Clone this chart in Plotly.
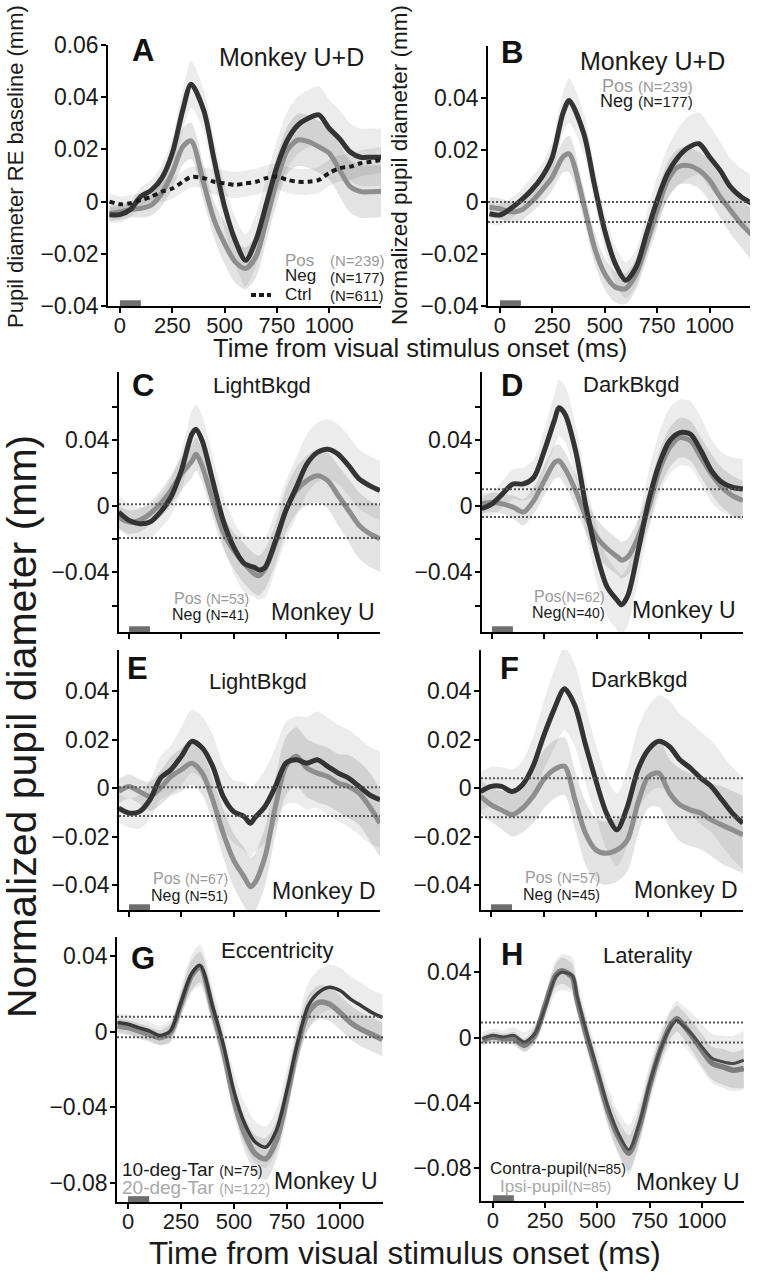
import plotly.graph_objects as go

W, H = 763, 1280
FONT = "Liberation Sans, Arial, Helvetica, sans-serif"

# ---------------- data ----------------
# Panel A (Monkey U+D, RE baseline)
A_t = [-50, 0, 50, 100, 150, 200, 250, 300, 340, 400, 450, 500, 550, 600, 650, 700, 750, 800, 850, 900, 950, 1000, 1050, 1100, 1150, 1200, 1250]
A_neg = [-0.005, -0.005, -0.003, 0.002, 0.0044, 0.009, 0.0185, 0.035, 0.045, 0.035, 0.016, -0.002, -0.0147, -0.0225, -0.0147, -0.0007, 0.0134, 0.0236, 0.0293, 0.0319, 0.0332, 0.028, 0.024, 0.019, 0.017, 0.017, 0.017]
A_neg_sem = [0.003, 0.003, 0.003, 0.0035, 0.004, 0.005, 0.006, 0.008, 0.009, 0.008, 0.008, 0.009, 0.009, 0.01, 0.01, 0.01, 0.01, 0.011, 0.011, 0.011, 0.011, 0.011, 0.011, 0.011, 0.011, 0.011, 0.011]
A_pos = [-0.0045, -0.004, -0.003, -0.0026, -0.0013, 0.0032, 0.011, 0.021, 0.0233, 0.007, -0.007, -0.016, -0.023, -0.0256, -0.021, -0.007, 0.0083, 0.0198, 0.0236, 0.023, 0.021, 0.0185, 0.012, 0.0057, 0.0038, 0.0038, 0.004]
A_pos_sem = [0.003, 0.003, 0.003, 0.0035, 0.004, 0.005, 0.006, 0.007, 0.007, 0.007, 0.007, 0.008, 0.008, 0.008, 0.008, 0.008, 0.009, 0.009, 0.01, 0.01, 0.01, 0.01, 0.01, 0.01, 0.01, 0.01, 0.01]
A_ctrl = [0.0, -0.001, -0.0006, 0.0006, 0.0019, 0.0038, 0.005, 0.0076, 0.0094, 0.009, 0.0076, 0.007, 0.0064, 0.007, 0.0076, 0.009, 0.0096, 0.0083, 0.0076, 0.0076, 0.0083, 0.011, 0.0128, 0.0134, 0.0147, 0.0153, 0.016]
A_ctrl_sem = [0.003, 0.003, 0.003, 0.003, 0.003, 0.004, 0.004, 0.004, 0.004, 0.004, 0.005, 0.005, 0.005, 0.005, 0.005, 0.005, 0.005, 0.005, 0.005, 0.005, 0.005, 0.005, 0.005, 0.005, 0.005, 0.005, 0.005]

# Panel B (Monkey U+D, normalized)
B_t = [-50, 0, 50, 100, 150, 200, 250, 300, 330, 400, 450, 500, 550, 600, 650, 700, 750, 800, 850, 900, 950, 1000, 1050, 1100, 1150, 1200]
B_neg = [-0.0045, -0.005, -0.0026, 0.0006, 0.0045, 0.0096, 0.0173, 0.034, 0.039, 0.0263, 0.007, -0.011, -0.0237, -0.0301, -0.025, -0.012, 0.0006, 0.011, 0.0173, 0.021, 0.0224, 0.0173, 0.0122, 0.0058, 0.002, -0.0005]
B_neg_sem = [0.004, 0.004, 0.004, 0.004, 0.005, 0.005, 0.006, 0.008, 0.0085, 0.008, 0.007, 0.007, 0.007, 0.007, 0.007, 0.008, 0.009, 0.01, 0.011, 0.012, 0.012, 0.012, 0.011, 0.011, 0.011, 0.011]
B_pos = [-0.002, -0.0026, -0.0038, -0.0032, 0.0, 0.0045, 0.0096, 0.0173, 0.0185, -0.001, -0.0173, -0.0276, -0.0327, -0.0333, -0.0276, -0.016, -0.0032, 0.0083, 0.0135, 0.014, 0.0122, 0.0083, 0.002, -0.0032, -0.0083, -0.0125]
B_pos_sem = [0.004, 0.004, 0.004, 0.004, 0.004, 0.005, 0.005, 0.006, 0.007, 0.006, 0.006, 0.006, 0.006, 0.006, 0.006, 0.006, 0.007, 0.007, 0.007, 0.007, 0.007, 0.008, 0.008, 0.009, 0.009, 0.01]
B_thr = [0.0, -0.0077]

# Panel C (LightBkgd, Monkey U)
C_t = [-50, 0, 50, 100, 150, 200, 250, 300, 320, 350, 400, 450, 500, 550, 600, 620, 650, 700, 750, 800, 850, 900, 950, 1000, 1050, 1100, 1150, 1200]
C_neg = [-0.0036, -0.0086, -0.0106, -0.0096, -0.0036, 0.0054, 0.0214, 0.0434, 0.0464, 0.0394, 0.0154, -0.0086, -0.0246, -0.0346, -0.037, -0.0385, -0.037, -0.021, -0.0026, 0.0114, 0.0254, 0.0324, 0.0344, 0.0314, 0.0244, 0.0164, 0.0124, 0.0094]
C_neg_sem = [0.01, 0.01, 0.01, 0.01, 0.01, 0.011, 0.012, 0.014, 0.015, 0.015, 0.015, 0.015, 0.016, 0.017, 0.018, 0.018, 0.018, 0.018, 0.018, 0.018, 0.018, 0.018, 0.018, 0.018, 0.018, 0.018, 0.018, 0.018]
C_pos = [-0.0066, -0.0096, -0.0086, -0.0046, 0.0014, 0.0094, 0.0194, 0.027, 0.0314, 0.024, 0.0034, -0.0156, -0.0266, -0.0346, -0.041, -0.042, -0.038, -0.0226, -0.0026, 0.0094, 0.0154, 0.0184, 0.0154, 0.0064, -0.0026, -0.0116, -0.0166, -0.0196]
C_pos_sem = [0.007, 0.007, 0.007, 0.007, 0.008, 0.009, 0.01, 0.01, 0.01, 0.01, 0.01, 0.01, 0.011, 0.012, 0.012, 0.012, 0.012, 0.012, 0.013, 0.014, 0.015, 0.016, 0.017, 0.018, 0.019, 0.02, 0.02, 0.02]
C_thr = [0.0012, -0.0193]

# Panel D (DarkBkgd, Monkey U)
D_t = [-50, 0, 50, 100, 150, 200, 250, 300, 320, 350, 400, 450, 500, 550, 600, 620, 650, 700, 750, 800, 850, 900, 950, 1000, 1050, 1100, 1150, 1200]
D_neg = [-0.0016, 0.0014, 0.0074, 0.0134, 0.0134, 0.0174, 0.0334, 0.0524, 0.0594, 0.0554, 0.0334, -0.0006, -0.0286, -0.0486, -0.057, -0.0596, -0.054, -0.0266, 0.0034, 0.0254, 0.0394, 0.0444, 0.0434, 0.0334, 0.0214, 0.0144, 0.0114, 0.0104]
D_neg_sem = [0.007, 0.007, 0.008, 0.009, 0.01, 0.011, 0.013, 0.016, 0.017, 0.017, 0.016, 0.016, 0.017, 0.018, 0.018, 0.018, 0.018, 0.018, 0.018, 0.019, 0.02, 0.02, 0.02, 0.02, 0.019, 0.018, 0.018, 0.018]
D_pos = [0.0014, 0.0024, 0.0014, -0.0006, -0.0036, 0.0034, 0.0154, 0.0264, 0.0274, 0.0224, 0.0094, -0.0066, -0.0186, -0.0256, -0.0306, -0.0326, -0.0306, -0.0186, -0.0006, 0.0214, 0.0354, 0.0414, 0.0394, 0.0294, 0.0194, 0.0114, 0.0064, 0.0034]
D_pos_sem = [0.006, 0.006, 0.006, 0.007, 0.008, 0.008, 0.009, 0.01, 0.01, 0.01, 0.01, 0.01, 0.011, 0.011, 0.011, 0.011, 0.011, 0.011, 0.011, 0.011, 0.012, 0.012, 0.012, 0.012, 0.012, 0.012, 0.012, 0.012]
D_thr = [0.0102, -0.0066]

# Panel E (LightBkgd, Monkey D)
E_t = [-50, 0, 50, 100, 150, 200, 250, 300, 350, 400, 450, 500, 550, 580, 600, 650, 700, 750, 800, 850, 900, 950, 1000, 1050, 1100, 1150, 1200]
E_neg = [-0.0083, -0.0103, -0.0097, -0.0048, 0.0041, 0.0076, 0.0131, 0.0193, 0.0166, 0.009, -0.0034, -0.0097, -0.0117, -0.0145, -0.0124, -0.0076, 0.0007, 0.0103, 0.0117, 0.0103, 0.0117, 0.009, 0.0062, 0.0041, 0.0007, -0.0028, -0.0048]
E_neg_sem = [0.006, 0.006, 0.007, 0.008, 0.009, 0.01, 0.012, 0.013, 0.013, 0.013, 0.013, 0.013, 0.014, 0.014, 0.014, 0.015, 0.016, 0.017, 0.018, 0.019, 0.02, 0.02, 0.02, 0.02, 0.02, 0.02, 0.02]
E_pos = [-0.0014, 0.0007, -0.0014, -0.0034, 0.0, 0.0048, 0.0076, 0.0103, 0.0062, -0.0048, -0.0186, -0.0297, -0.0366, -0.0407, -0.0393, -0.0283, -0.0076, 0.009, 0.0131, 0.0083, 0.0062, 0.0048, 0.0021, 0.0007, -0.0021, -0.0076, -0.0145]
E_pos_sem = [0.005, 0.005, 0.005, 0.006, 0.007, 0.008, 0.009, 0.009, 0.009, 0.009, 0.01, 0.011, 0.012, 0.012, 0.012, 0.012, 0.012, 0.012, 0.012, 0.012, 0.012, 0.012, 0.012, 0.013, 0.013, 0.014, 0.014]
E_thr = [0.0004, -0.0115]

# Panel F (DarkBkgd, Monkey D)
F_t = [-50, 0, 50, 100, 150, 200, 250, 300, 350, 400, 450, 500, 550, 600, 650, 700, 750, 800, 850, 900, 950, 1000, 1050, 1100, 1150, 1200]
F_neg = [-0.0014, 0.0007, 0.0007, -0.0014, 0.0014, 0.009, 0.0214, 0.0324, 0.041, 0.034, 0.018, 0.003, -0.0103, -0.0172, -0.0076, 0.0076, 0.0159, 0.0193, 0.0172, 0.0117, 0.0083, 0.0041, 0.0007, -0.0048, -0.0103, -0.0145]
F_neg_sem = [0.008, 0.008, 0.008, 0.009, 0.01, 0.012, 0.014, 0.016, 0.017, 0.017, 0.016, 0.015, 0.015, 0.015, 0.016, 0.017, 0.018, 0.019, 0.019, 0.019, 0.019, 0.019, 0.019, 0.019, 0.019, 0.019]
F_pos = [-0.0034, -0.0069, -0.009, -0.011, -0.0083, -0.0034, 0.0034, 0.0076, 0.009, -0.0048, -0.0186, -0.0255, -0.0269, -0.0255, -0.0214, -0.0062, 0.0048, 0.0062, -0.002, -0.0069, -0.009, -0.0103, -0.0131, -0.0152, -0.0172, -0.0193]
F_pos_sem = [0.007, 0.007, 0.008, 0.009, 0.01, 0.011, 0.012, 0.012, 0.012, 0.012, 0.013, 0.013, 0.013, 0.013, 0.013, 0.013, 0.013, 0.014, 0.014, 0.015, 0.015, 0.015, 0.015, 0.016, 0.016, 0.016]
F_thr = [0.0041, -0.012]

# Panel G (Eccentricity, Monkey U)
G_t = [-50, 0, 50, 100, 150, 200, 250, 300, 340, 400, 450, 500, 550, 600, 650, 700, 750, 800, 850, 900, 950, 1000, 1050, 1100, 1150, 1200]
G_10 = [0.0048, 0.0039, 0.0021, 0.0004, -0.002, 0.0004, 0.0155, 0.0306, 0.035, 0.013, -0.007, -0.0316, -0.0485, -0.0583, -0.061, -0.0521, -0.0308, -0.0059, 0.0137, 0.0208, 0.0235, 0.0217, 0.0172, 0.0137, 0.0101, 0.0075]
G_10_sem = [0.005, 0.005, 0.005, 0.005, 0.005, 0.006, 0.008, 0.01, 0.011, 0.01, 0.01, 0.01, 0.011, 0.011, 0.011, 0.011, 0.011, 0.011, 0.012, 0.012, 0.012, 0.012, 0.012, 0.012, 0.012, 0.012]
G_20 = [0.003, 0.0021, 0.0004, -0.0014, -0.0032, -0.0005, 0.0146, 0.0297, 0.0341, 0.011, -0.01, -0.0361, -0.0539, -0.0645, -0.0672, -0.0574, -0.0343, -0.0076, 0.0101, 0.0155, 0.0146, 0.0101, 0.0048, 0.0012, -0.0014, -0.0041]
G_20_sem = [0.004, 0.004, 0.004, 0.004, 0.004, 0.005, 0.006, 0.008, 0.008, 0.008, 0.008, 0.008, 0.009, 0.01, 0.011, 0.01, 0.01, 0.009, 0.009, 0.009, 0.009, 0.009, 0.009, 0.009, 0.009, 0.009]
G_thr = [0.0079, -0.003]

# Panel H (Laterality, Monkey U)
H_t = [-50, 0, 50, 100, 150, 200, 250, 300, 330, 380, 400, 450, 500, 550, 600, 650, 700, 750, 800, 850, 880, 900, 950, 1000, 1050, 1100, 1150, 1200]
H_contra = [-0.0006, 0.0014, 0.0004, 0.0014, -0.0026, 0.0024, 0.0187, 0.037, 0.04, 0.038, 0.0268, 0.0024, -0.0199, -0.0422, -0.0585, -0.0686, -0.0524, -0.028, -0.0077, 0.0065, 0.0106, 0.0085, 0.0024, -0.0057, -0.0128, -0.0148, -0.0158, -0.0138]
H_contra_sem = [0.004, 0.004, 0.004, 0.005, 0.006, 0.006, 0.008, 0.01, 0.011, 0.011, 0.01, 0.01, 0.011, 0.012, 0.013, 0.015, 0.013, 0.012, 0.011, 0.011, 0.012, 0.012, 0.013, 0.014, 0.015, 0.016, 0.017, 0.018]
H_ipsi = [-0.0016, 0.0004, -0.0006, -0.0006, -0.0047, 0.0014, 0.0197, 0.038, 0.041, 0.037, 0.0248, 0.0004, -0.0219, -0.0443, -0.0605, -0.0707, -0.0544, -0.029, -0.0077, 0.0075, 0.0116, 0.0095, 0.0014, -0.0077, -0.0158, -0.0179, -0.0199, -0.0189]
H_ipsi_sem = [0.003, 0.003, 0.003, 0.004, 0.004, 0.005, 0.006, 0.007, 0.008, 0.008, 0.008, 0.008, 0.008, 0.009, 0.01, 0.011, 0.01, 0.009, 0.008, 0.008, 0.008, 0.008, 0.009, 0.01, 0.01, 0.011, 0.011, 0.012]
H_thr = [0.0092, -0.003]

X_TICKS = [0, 250, 500, 750, 1000]
STIM = [0, 100]

# ---------------- layout geometry (pixels) ----------------
BOX = {
    1: (108, 381, 45, 306),
    2: (488, 750, 46, 306),
    3: (119, 380, 372, 632),
    4: (482, 743, 372, 632),
    5: (119, 380, 650, 910),
    6: (481, 743, 650, 910),
    7: (117, 383, 937, 1202),
    8: (481, 744, 938, 1201),
}
XR = {1: [-57, 1247], 2: [-57, 1193], 3: [-48, 1200], 4: [-48, 1201],
      5: [-48, 1200], 6: [-48, 1201], 7: [-52, 1203], 8: [-57, 1201]}
YR = {1: [-0.04, 0.06], 2: [-0.04, 0.06], 3: [-0.076, 0.081], 4: [-0.076, 0.081],
      5: [-0.0503, 0.057], 6: [-0.0503, 0.057], 7: [-0.09, 0.05], 8: [-0.1, 0.061]}

M = "\u2212"
YT = {
    1: ([0.06, 0.04, 0.02, 0, -0.02, -0.04], ["0.06", "0.04", "0.02", "0", M + "0.02", M + "0.04"]),
    2: ([0.04, 0.02, 0, -0.02, -0.04], ["0.04", "0.02", "0", M + "0.02", M + "0.04"]),
    3: ([0.06, 0.04, 0.02, 0, -0.02, -0.04, -0.06], ["", "0.04", "", "0", "", M + "0.04", ""]),
    4: ([0.06, 0.04, 0.02, 0, -0.02, -0.04, -0.06], ["", "0.04", "", "0", "", M + "0.04", ""]),
    5: ([0.04, 0.02, 0, -0.02, -0.04], ["0.04", "0.02", "0", M + "0.02", M + "0.04"]),
    6: ([0.04, 0.02, 0, -0.02, -0.04], ["0.04", "0.02", "0", M + "0.02", M + "0.04"]),
    7: ([0.04, 0, -0.04, -0.08], ["0.04", "0", M + "0.04", M + "0.08"]),
    8: ([0.04, 0, -0.04, -0.08], ["0.04", "0", M + "0.04", M + "0.08"]),
}

DARK = "#333333"
GRAY = "#8e8e8e"
NEG_FILL = "rgba(0,0,0,0.075)"
POS_FILL = "rgba(0,0,0,0.11)"

fig = go.Figure()


def ax_names(i):
    return ("x" if i == 1 else f"x{i}"), ("y" if i == 1 else f"y{i}")


def add_band(i, t, v, s, fill):
    xa, ya = ax_names(i)
    lo = [a - b for a, b in zip(v, s)]
    hi = [a + b for a, b in zip(v, s)]
    fig.add_trace(go.Scatter(x=t, y=lo, mode="lines", line=dict(width=0, shape="spline", smoothing=0.8),
                             hoverinfo="skip", showlegend=False, xaxis=xa, yaxis=ya))
    fig.add_trace(go.Scatter(x=t, y=hi, mode="lines", line=dict(width=0, shape="spline", smoothing=0.8),
                             fill="tonexty", fillcolor=fill,
                             hoverinfo="skip", showlegend=False, xaxis=xa, yaxis=ya))


def add_line(i, t, v, color, width, dash="solid"):
    xa, ya = ax_names(i)
    fig.add_trace(go.Scatter(x=t, y=v, mode="lines",
                             line=dict(color=color, width=width, shape="spline", smoothing=0.8, dash=dash),
                             showlegend=False, xaxis=xa, yaxis=ya))


# Panel A
add_band(1, A_t, A_ctrl, A_ctrl_sem, NEG_FILL)
add_band(1, A_t, A_neg, A_neg_sem, NEG_FILL)
add_band(1, A_t, A_pos, A_pos_sem, POS_FILL)
add_line(1, A_t, A_pos, GRAY, 5)
add_line(1, A_t, A_neg, DARK, 5)
add_line(1, A_t, A_ctrl, "#1a1a1a", 4, "5px,4px")

# Panels B-F (Pos / Neg)
for i, (t, neg, ns, pos, ps) in {
    2: (B_t, B_neg, B_neg_sem, B_pos, B_pos_sem),
    3: (C_t, C_neg, C_neg_sem, C_pos, C_pos_sem),
    4: (D_t, D_neg, D_neg_sem, D_pos, D_pos_sem),
    5: (E_t, E_neg, E_neg_sem, E_pos, E_pos_sem),
    6: (F_t, F_neg, F_neg_sem, F_pos, F_pos_sem),
}.items():
    add_band(i, t, neg, ns, NEG_FILL)
    add_band(i, t, pos, ps, POS_FILL)
    add_line(i, t, pos, GRAY, 5)
    add_line(i, t, neg, DARK, 5)

# Panel G
add_band(7, G_t, G_10, G_10_sem, NEG_FILL)
add_band(7, G_t, G_20, G_20_sem, POS_FILL)
add_line(7, G_t, G_20, "#8a8a8a", 5.5)
add_line(7, G_t, G_10, "#3a3a3a", 3.5)

# Panel H
add_band(8, H_t, H_contra, H_contra_sem, NEG_FILL)
add_band(8, H_t, H_ipsi, H_ipsi_sem, POS_FILL)
add_line(8, H_t, H_ipsi, "#7c7c7c", 5.5)
add_line(8, H_t, H_contra, "#4a4a4a", 3)

# ---------------- axes ----------------
layout = dict(width=W, height=H, margin=dict(l=0, r=0, t=0, b=0, pad=0, autoexpand=False),
              paper_bgcolor="white", plot_bgcolor="white", showlegend=False,
              font=dict(family=FONT, color="#1a1a1a"))
for i in range(1, 9):
    l, r, tp, bt = BOX[i]
    xkey = "xaxis" if i == 1 else f"xaxis{i}"
    ykey = "yaxis" if i == 1 else f"yaxis{i}"
    xa, ya = ax_names(i)
    common = dict(showline=True, linecolor="black", linewidth=1.5, ticks="outside", ticklen=5,
                  tickwidth=1.5, tickcolor="black", showgrid=False, zeroline=False, automargin=False,
                  fixedrange=True)
    layout[xkey] = dict(common, domain=[l / W, r / W], range=XR[i], anchor=ya,
                        tickvals=X_TICKS, showticklabels=i in (1, 2, 7, 8),
                        ticklabelstandoff=-6,
                        tickfont=dict(size=22, family=FONT, color="#1a1a1a"))
    tv, tt = YT[i]
    layout[ykey] = dict(common, domain=[1 - bt / H, 1 - tp / H], range=YR[i], anchor=xa,
                        tickvals=tv, ticktext=tt, ticklabelstandoff=-2,
                        tickfont=dict(size=23, family=FONT, color="#1a1a1a"))
fig.update_layout(**layout)

# ---------------- shapes ----------------
shapes = []
for i in range(1, 9):
    xa, ya = ax_names(i)
    shapes.append(dict(type="rect", xref=xa, yref=f"{ya} domain", x0=STIM[0], x1=STIM[1], y0=0.0, y1=0.022,
                       fillcolor="#6e6e6e", line=dict(width=0), layer="above"))
for i, thr in {2: B_thr, 3: C_thr, 4: D_thr, 5: E_thr, 6: F_thr, 7: G_thr, 8: H_thr}.items():
    xa, ya = ax_names(i)
    for v in thr:
        shapes.append(dict(type="line", xref=f"{xa} domain", yref=ya, x0=0, x1=1, y0=v, y1=v,
                           line=dict(color="#555555", width=2, dash="2px,2px"), layer="above"))
shapes.append(dict(type="line", xref="paper", yref="paper", x0=251 / W, x1=271 / W,
                   y0=1 - 295 / H, y1=1 - 295 / H, line=dict(color="#1a1a1a", width=4, dash="5px,3px")))
fig.update_layout(shapes=shapes)

# ---------------- text ----------------
anns = []


def ann(text, px, py, size, color="#1a1a1a", xanchor="center", angle=0):
    anns.append(dict(text=text, x=px / W, y=1 - py / H, xref="paper", yref="paper",
                     xanchor=xanchor, yanchor="middle", showarrow=False, textangle=angle,
                     font=dict(size=size, color=color, family=FONT)))


PC = "#9a9a9a"
NC = "#1a1a1a"

for letter, (px, py) in {"A": (143, 50), "B": (512, 53), "C": (143, 385), "D": (512, 386),
                         "E": (137, 668), "F": (510, 668), "G": (143, 958), "H": (512, 954)}.items():
    ann(f"<b>{letter}</b>", px, py, 31, "#111111")

ann("Monkey U+D", 291, 57, 25)
ann("Monkey U+D", 652, 61, 25)
ann("LightBkgd", 262, 385, 22)
ann("DarkBkgd", 631, 384, 22)
ann("LightBkgd", 258, 681, 22)
ann("DarkBkgd", 639, 679, 22)
ann("Eccentricity", 277, 950, 22)
ann("Laterality", 647, 955, 22)
ann("Monkey U", 377, 612, 23, xanchor="right")
ann("Monkey U", 738, 610, 23, xanchor="right")
ann("Monkey D", 378, 891, 23, xanchor="right")
ann("Monkey D", 740, 890, 23, xanchor="right")
ann("Monkey U", 380, 1181, 23, xanchor="right")
ann("Monkey U", 742, 1182, 23, xanchor="right")

ann("Pos", 283, 260, 17, PC, xanchor="left")
ann("(N=239)", 328, 261, 15, PC, xanchor="left")
ann("Neg", 283, 276, 17, NC, xanchor="left")
ann("(N=177)", 328, 277, 15, NC, xanchor="left")
ann("Ctrl", 283, 294, 17, NC, xanchor="left")
ann("(N=611)", 328, 295, 15, NC, xanchor="left")

ann("Pos <span style='font-size:15px'>(N=239)</span>", 695, 86, 18, PC, xanchor="right")
ann("Neg <span style='font-size:15px'>(N=177)</span>", 695, 101, 18, NC, xanchor="right")

ann("Pos <span style='font-size:14px'>(N=53)</span>", 251, 598, 16, PC, xanchor="right")
ann("Neg <span style='font-size:14px'>(N=41)</span>", 251, 614, 16, NC, xanchor="right")
ann("Pos<span style='font-size:14px'>(N=62)</span>", 607, 596, 16, PC, xanchor="right")
ann("Neg<span style='font-size:14px'>(N=40)</span>", 607, 612, 16, NC, xanchor="right")
ann("Pos <span style='font-size:14px'>(N=67)</span>", 230, 878, 16, PC, xanchor="right")
ann("Neg <span style='font-size:14px'>(N=51)</span>", 230, 895, 16, NC, xanchor="right")
ann("Pos <span style='font-size:14px'>(N=57)</span>", 602, 877, 16, PC, xanchor="right")
ann("Neg <span style='font-size:14px'>(N=45)</span>", 602, 894, 16, NC, xanchor="right")
ann("10-deg-Tar <span style='font-size:14px'>(N=75)</span>", 120, 1169, 19, NC, xanchor="left")
ann("20-deg-Tar <span style='font-size:14px'>(N=122)</span>", 120, 1187, 19, "#a8a8a8", xanchor="left")
ann("Contra-pupil<span style='font-size:14px'>(N=85)</span>", 488, 1168, 17, NC, xanchor="left")
ann("Ipsi-pupil<span style='font-size:14px'>(N=85)</span>", 498, 1186, 17, "#a8a8a8", xanchor="left")

ann("Pupil diameter RE baseline (mm)", 15, 167, 22, angle=-90)
ann("Normalized pupil diameter (mm)", 399, 165, 22.5, angle=-90)
ann("Time from visual stimulus onset (ms)", 420, 348, 25.5)
ann("Normalized pupil diameter (mm)", 22, 727, 41, angle=-90)
ann("Time from visual stimulus onset (ms)", 405, 1253, 31.5)

fig.update_layout(annotations=anns)
fig.write_html("out.html", config={"displayModeBar": False},
               post_script="document.body.style.margin='0px';document.body.style.padding='0px';")
